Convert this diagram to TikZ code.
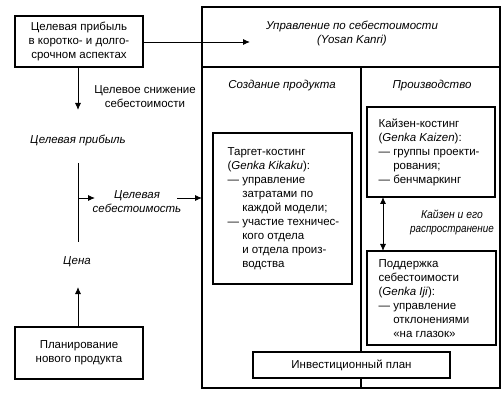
\documentclass[tikz,border=0pt]{standalone}
\usepackage{fontspec}
\setmainfont{Liberation Sans}
\usetikzlibrary{arrows.meta}
\begin{document}
\begin{tikzpicture}[x=1pt,y=-1pt,
  font=\fontsize{11.5}{14}\selectfont,
  box/.style={draw, line width=1.2pt, inner sep=0pt},
  bline/.style={line width=1.2pt},
  arr/.style={line width=0.9pt, -{Latex[length=7pt,width=6pt]}},
  darr/.style={line width=0.9pt, {Latex[length=7pt,width=6pt]}-{Latex[length=7pt,width=6pt]}},
  lbl/.style={align=center, inner sep=0pt, font=\fontsize{11.5}{14}\selectfont\itshape},
  plain/.style={align=center, inner sep=0pt},
  btext/.style={align=left, inner sep=0pt, anchor=west}]
\useasboundingbox (0,0) rectangle (504,401);

% left column
\node[box, minimum width=128pt, minimum height=51pt, align=center] (goal) at (79,41.5)
  {Целевая прибыль\\в коротко- и долго-\\срочном аспектах};
\node[box, minimum width=128pt, minimum height=52pt, align=center] (plan) at (79,353)
  {Планирование\\нового продукта};
\node[plain] (cut) at (145,97) {Целевое снижение\\себестоимости};
\node[lbl] (profit) at (78,140) {Целевая прибыль};
\node[lbl] (tcost) at (137,202) {Целевая\\себестоимость};
\node[lbl] (price) at (77,262) {Цена};

\coordinate (goaldown) at (78,67);
\coordinate (cutend) at (78,110);
\coordinate (vtop) at (78,163);
\coordinate (vbot) at (78,242);
\coordinate (vmid) at (78,198);
\coordinate (vmidend) at (95,198);
\coordinate (tcostr) at (177,198);
\coordinate (planup) at (78,327);
\coordinate (priceend) at (78,287);
\coordinate (goalend) at (250,42);

% big box
\node[box, minimum width=298pt, minimum height=381pt] (big) at (351,197.5) {};
\coordinate (hl) at (202,67);
\coordinate (hr) at (500,67);
\coordinate (dt) at (361,67);
\coordinate (db) at (361,388);
\coordinate (bigin) at (202,198);
\draw[bline] (hl) -- (hr);
\draw[bline] (dt) -- (db);

\node[lbl] (ucost) at (352,33) {Управление по себестоимости\\(Yosan Kanri)};
\node[lbl] (create) at (282,86) {Создание продукта};
\node[lbl] (prod) at (432,86) {Производство};

\node[box, minimum width=139pt, minimum height=151pt] (target) at (282.5,208.5) {};
\node[btext] (targett) at ([xshift=15pt]target.west)
  {Таргет-костинг\\(\textit{Genka Kikaku}):\\— управление\\\phantom{— }затратами по\\\phantom{— }каждой модели;\\— участие техничес-\\\phantom{— }кого отдела\\\phantom{— }и отдела произ-\\\phantom{— }водства};

\node[box, minimum width=128pt, minimum height=90pt] (kaizen) at (431,152) {};
\node[btext] (kaizent) at ([xshift=12pt]kaizen.west)
  {Кайзен-костинг\\(\textit{Genka Kaizen}):\\— группы проекти-\\\phantom{— }рования;\\— бенчмаркинг};

\node[box, minimum width=129pt, minimum height=94pt] (support) at (431.5,298) {};
\node[btext] (supportt) at ([xshift=12pt,yshift=-1pt]support.west)
  {Поддержка\\себестоимости\\(\textit{Genka Iji}):\\— управление\\\phantom{— }отклонениями\\\phantom{— }«на глазок»};

\node[lbl] (spread) at (452,222) {\scalebox{0.9}[1]{Кайзен и его}\\\scalebox{0.86}[1]{распространение}};

\node[box, fill=white, minimum width=197pt, minimum height=26pt] (invest) at (351.5,365) {Инвестиционный план};

\coordinate (kbot) at (383,197);
\coordinate (stop) at (383,251);

% connectors
\draw[arr] (goal.east |- goalend) -- (goalend);
\draw[arr] (goaldown) -- (cutend);
\draw[line width=0.9pt] (vtop) -- (vbot);
\draw[arr] (vmid) -- (vmidend);
\draw[arr] (tcostr) -- (bigin);
\draw[arr] (planup) -- (priceend);
\draw[darr] (kbot) -- (stop);
\end{tikzpicture}
\end{document}
